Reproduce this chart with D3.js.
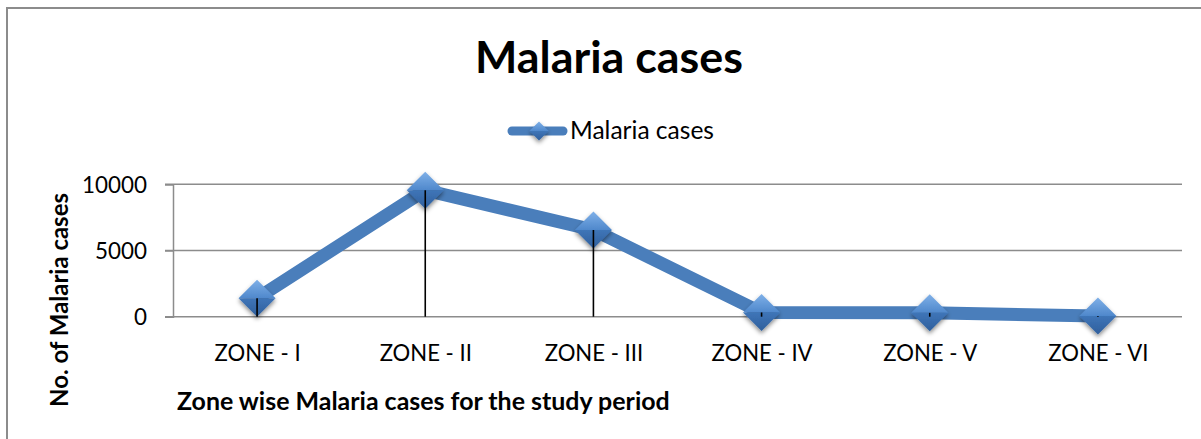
<!DOCTYPE html>
<html>
<head>
<meta charset="utf-8">
<script src="https://cdn.jsdelivr.net/npm/d3@7"></script>
<style>
  html, body { margin: 0; padding: 0; background: #fff; }
  svg { display: block; font-family: Lato, "Open Sans", sans-serif; }
</style>
</head>
<body>
<script>
const width = 1201;
const height = 439;

// data
const zones = ['ZONE - I', 'ZONE - II', 'ZONE - III', 'ZONE - IV', 'ZONE - V', 'ZONE - VI'];
const cases = [1400, 9550, 6550, 320, 290, 60];
const yTicks = [0, 5000, 10000];
const seriesName = 'Malaria cases';

const blue = '#4a7ebb';
const grid = '#8c8c8c';

const svg = d3.select('body')
              .append('svg')
              .attr('width', width)
              .attr('height', height);

// shrink / grow text until it spans the width measured on the reference
const fit = (sel, target) => {
    const node = sel.node();
    const fs = parseFloat(sel.attr('font-size'));
    const w = node.getComputedTextLength();
    sel.attr('font-size', (fs * target / w).toFixed(2));
    return sel;
};

const defs = svg.append('defs');
const shadow = defs.append('filter')
    .attr('id', 'shadow')
    .attr('x', '-50%').attr('y', '-50%')
    .attr('width', '200%').attr('height', '200%');
shadow.append('feDropShadow')
    .attr('dx', 0).attr('dy', 2.5)
    .attr('stdDeviation', 2)
    .attr('flood-color', '#000')
    .attr('flood-opacity', 0.45);

const topGrad = defs.append('linearGradient')
    .attr('id', 'topGrad').attr('x1', 0).attr('y1', 0).attr('x2', 0).attr('y2', 1);
topGrad.append('stop').attr('offset', '0%').attr('stop-color', '#7fb0e8');
topGrad.append('stop').attr('offset', '100%').attr('stop-color', '#4f88cc');
const botGrad = defs.append('linearGradient')
    .attr('id', 'botGrad').attr('x1', 0).attr('y1', 0).attr('x2', 0).attr('y2', 1);
botGrad.append('stop').attr('offset', '0%').attr('stop-color', '#3f75b8');
botGrad.append('stop').attr('offset', '100%').attr('stop-color', '#2f5f9c');

// chart frame, cut off at right and bottom like the original
svg.append('rect')
    .attr('x', 7).attr('y', 8)
    .attr('width', width + 20).attr('height', height + 20)
    .attr('fill', 'none')
    .attr('stroke', grid)
    .attr('stroke-width', 2);

const plot = { left: 173, right: 1182, top: 184.3, bottom: 316.7 };

const x = d3.scalePoint()
    .domain(zones)
    .range([plot.left, plot.right])
    .padding(0.5);

const y = d3.scaleLinear()
    .domain([0, 10000])
    .range([plot.bottom, plot.top]);

// gridlines
svg.append('g')
    .selectAll('line')
    .data(yTicks)
    .join('line')
        .attr('x1', plot.left - 8)
        .attr('x2', plot.right)
        .attr('y1', d => y(d))
        .attr('y2', d => y(d))
        .attr('stroke', grid)
        .attr('stroke-width', 1.5);

// y axis
const yAxis = svg.append('g')
    .attr('transform', `translate(${plot.left},0)`)
    .call(d3.axisLeft(y).tickValues(yTicks).tickSize(8).tickPadding(18).tickFormat(d3.format('d')));
yAxis.select('.domain').attr('stroke', grid).attr('stroke-width', 1.5);
yAxis.selectAll('.tick line').attr('stroke', grid).attr('stroke-width', 1.5);
yAxis.selectAll('.tick text')
    .attr('font-family', 'Lato, sans-serif')
    .attr('font-size', 22)
    .attr('fill', '#000')
    .attr('dy', '0.36em');
yAxis.selectAll('.tick text').filter(d => d === 10000).each(function () { fit(d3.select(this), 65); });
const yfs = yAxis.selectAll('.tick text').filter(d => d === 10000).attr('font-size');
yAxis.selectAll('.tick text').attr('font-size', yfs);

// x axis labels
const xAxis = svg.append('g')
    .attr('transform', `translate(0,${plot.bottom})`)
    .call(d3.axisBottom(x).tickSize(0).tickPadding(0));
xAxis.select('.domain').remove();
xAxis.selectAll('.tick text')
    .attr('font-family', 'Lato, sans-serif')
    .attr('font-size', 21)
    .attr('fill', '#000')
    .attr('dy', 0)
    .attr('y', 361 - plot.bottom);
const firstX = xAxis.selectAll('.tick text').filter(d => d === 'ZONE - IV');
fit(firstX, 101);
xAxis.selectAll('.tick text').attr('font-size', firstX.attr('font-size'));

// series line
svg.append('path')
    .datum(cases)
    .attr('d', d3.line().x((d, i) => x(zones[i])).y(d => y(d)))
    .attr('fill', 'none')
    .attr('stroke', blue)
    .attr('stroke-width', 13)
    .attr('stroke-linejoin', 'miter');

// diamond markers
const diamond = (g, r) => {
    g.append('path')
        .attr('d', `M${-r},0L0,${-r}L${r},0Z`)
        .attr('fill', 'url(#topGrad)');
    g.append('path')
        .attr('d', `M${-r},0L${r},0L0,${r}Z`)
        .attr('fill', 'url(#botGrad)');
};

svg.append('g')
    .selectAll('g')
    .data(cases)
    .join('g')
        .attr('transform', (d, i) => `translate(${x(zones[i])},${y(d)})`)
        .attr('filter', 'url(#shadow)')
        .each(function () { diamond(d3.select(this), 18.5); });

// drop lines
svg.append('g')
    .selectAll('line')
    .data(cases)
    .join('line')
        .attr('x1', (d, i) => x(zones[i]))
        .attr('x2', (d, i) => x(zones[i]))
        .attr('y1', d => y(d))
        .attr('y2', y(0))
        .attr('stroke', '#000')
        .attr('stroke-width', 1.6);

// title
const title = svg.append('text')
    .attr('x', 609).attr('y', 73)
    .attr('text-anchor', 'middle')
    .attr('font-weight', 'bold')
    .attr('font-size', 42)
    .text(seriesName);
fit(title, 268);

// legend
const leg = svg.append('g');
leg.append('line')
    .attr('x1', 512).attr('x2', 563)
    .attr('y1', 131).attr('y2', 131)
    .attr('stroke', blue)
    .attr('stroke-width', 9)
    .attr('stroke-linecap', 'round');
const legMark = leg.append('g')
    .attr('transform', 'translate(539,131)')
    .attr('filter', 'url(#shadow)');
diamond(legMark, 9.5);
const legText = leg.append('text')
    .attr('x', 570).attr('y', 139)
    .attr('font-size', 21)
    .text(seriesName);
fit(legText, 144);

// axis titles
const yTitle = svg.append('text')
    .attr('transform', 'translate(68,300) rotate(-90)')
    .attr('text-anchor', 'middle')
    .attr('font-weight', 'bold')
    .attr('font-size', 20)
    .text('No. of Malaria cases');
fit(yTitle, 214);

const xTitle = svg.append('text')
    .attr('x', 177).attr('y', 410)
    .attr('font-weight', 'bold')
    .attr('font-size', 20)
    .text('Zone wise Malaria cases for the study period');
fit(xTitle, 493);
</script>
</body>
</html>
